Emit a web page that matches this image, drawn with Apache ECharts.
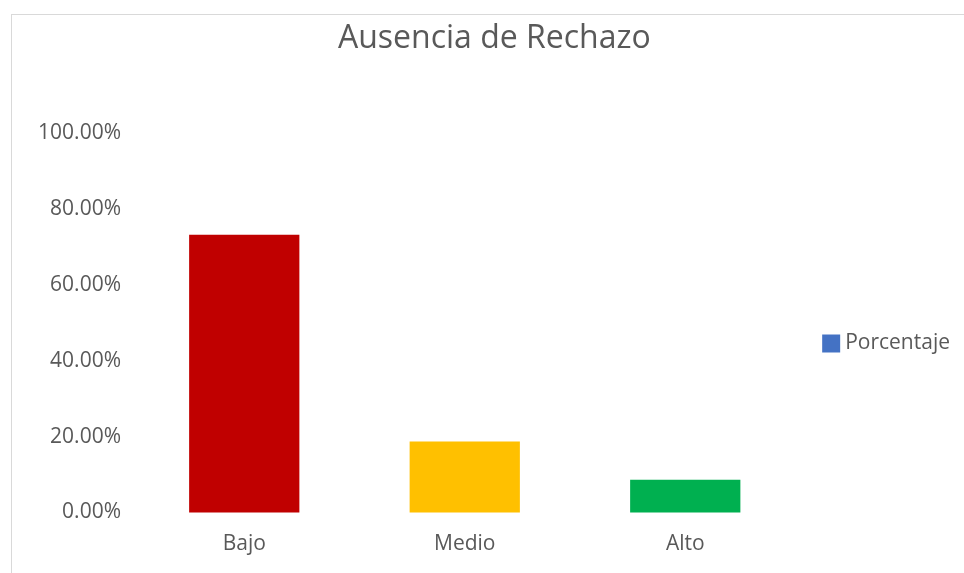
<!DOCTYPE html>
<html>
<head>
<meta charset="utf-8">
<script src="https://cdn.jsdelivr.net/npm/echarts@6/dist/echarts.min.js"></script>
<style>
  html, body { margin: 0; padding: 0; background: #fff; }
  #main { position: absolute; left: 0; top: 0; width: 964px; height: 573px; }
  /* marco gris del gráfico original */
  .frame {
    position: absolute; left: 11px; top: 14px; width: 960px; height: 570px;
    border-left: 1px solid #d9d9d9; border-top: 1px solid #d9d9d9;
    pointer-events: none;
  }
</style>
</head>
<body>
<div id="main"></div>
<div class="frame"></div>
<script>
// --- datos ---
const categories = ['Bajo', 'Medio', 'Alto']
const porcentaje = [73.2, 18.7, 8.6]
const barColors = ['#C00000', '#FFC000', '#00B050']
const yTicks = [0, 20, 40, 60, 80, 100]

const FONT = '"Open Sans", sans-serif'
const chart = echarts.init(document.getElementById('main'))

const option = {
  backgroundColor: '#fff',
  animation: false,
  title: {
    text: 'Ausencia de Rechazo',
    left: 333,
    top: 18,
    textStyle: { color: '#595959', fontFamily: FONT, fontSize: 32, fontWeight: 'normal' }
  },
  legend: {
    data: ['Porcentaje'],
    right: 9,
    top: 328,
    orient: 'vertical',
    itemWidth: 18,
    itemHeight: 18,
    itemGap: 4,
    icon: 'rect',
    textStyle: { color: '#595959', fontFamily: FONT, fontSize: 21, padding: [0, 0, 0, 0] }
  },
  grid: { left: 134, right: 168.5, top: 133, bottom: 60.5 },
  xAxis: {
    type: 'category',
    data: categories,
    axisLine: { show: false },
    axisTick: { show: false },
    axisLabel: { color: '#595959', fontFamily: FONT, fontSize: 21, margin: 21 }
  },
  yAxis: {
    type: 'value',
    min: yTicks[0],
    max: yTicks[yTicks.length - 1],
    interval: 20,
    splitLine: { show: false },
    axisLine: { show: false },
    axisTick: { show: false },
    axisLabel: {
      color: '#595959', fontFamily: FONT, fontSize: 21, margin: 13,
      formatter: v => v.toFixed(2) + '%'
    }
  },
  series: [{
    name: 'Porcentaje',
    type: 'bar',
    barWidth: '50%',
    itemStyle: { color: '#4472C4' },
    data: porcentaje.map((v, i) => ({ value: v, itemStyle: { color: barColors[i] } }))
  }]
}

chart.setOption(option)
</script>
</body>
</html>
